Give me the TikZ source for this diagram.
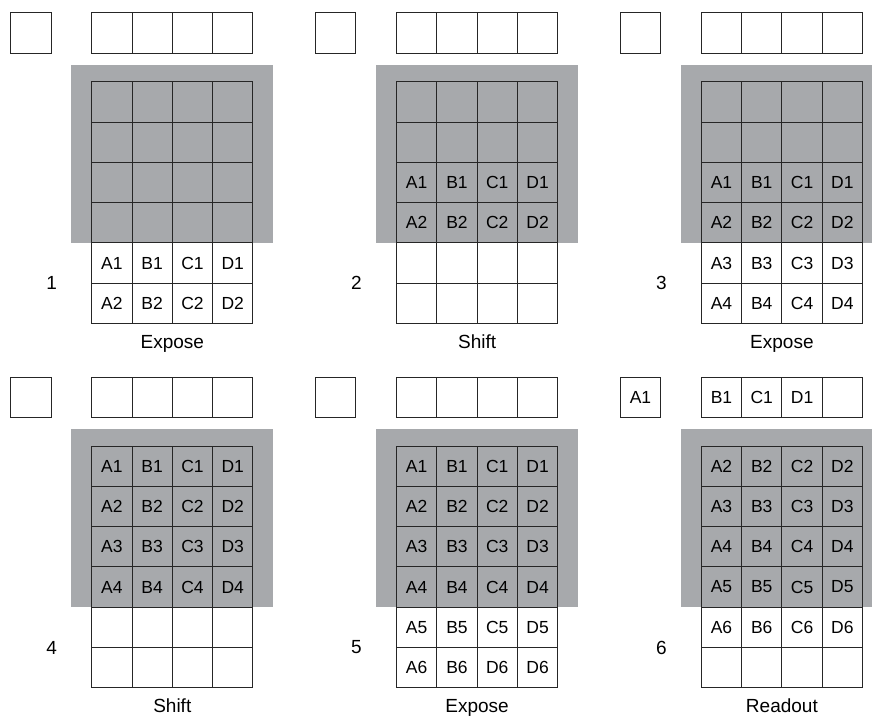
\documentclass[tikz,border=0pt]{standalone}
\usepackage{fontspec}
\setmainfont{Liberation Sans}
\definecolor{ccdgray}{RGB}{167,169,172}
\tikzset{
  pixel/.style={draw=black!85, line width=0.9pt, minimum size=40.3pt, inner sep=0pt,
    font=\fontsize{17.5}{17.5}\selectfont},
  mask/.style={fill=ccdgray},
  steplabel/.style={font=\fontsize{19}{19}\selectfont},
}
% one frame: name, x, y, number, caption, serial register, top row, 6 rows
\newcommand{\ccdpanel}[8]{%
  \begin{scope}[shift={(#2,#3)}]
    \fill[mask] (-20.7,-16.7) rectangle (181.6,161.2);
    \node[pixel] (#1-s) at (-60.85,-48.85) {#6};
    \foreach \lab [count=\c] in {#7}
      \node[pixel] (#1-t\c) at ({(\c-0.5)*40.3},-48.85) {\lab};
    \foreach \row [count=\r] in {#8}
      \foreach \lab [count=\c] in \row
        \node[pixel] (#1-\c-\r) at ({(\c-0.5)*40.3},{(\r-0.5)*40.3}) {\lab};
    \node[steplabel] (#1-num) at (-40,201.5) {#4};
    \node[steplabel, anchor=base] (#1-cap) at (80.6,266.3) {#5};
  \end{scope}
}

\begin{document}
\begin{tikzpicture}[x=1pt,y=-1pt]
  \useasboundingbox (0,0) rectangle (872,715);
  \ccdpanel{one}{91.7}{81.7}{1}{Expose}{}{{},{},{},{}}
    {{{},{},{},{}},{{},{},{},{}},{{},{},{},{}},{{},{},{},{}},
     {A1,B1,C1,D1},{A2,B2,C2,D2}}
  \ccdpanel{two}{396.5}{81.7}{2}{Shift}{}{{},{},{},{}}
    {{{},{},{},{}},{{},{},{},{}},{A1,B1,C1,D1},{A2,B2,C2,D2},
     {{},{},{},{}},{{},{},{},{}}}
  \ccdpanel{three}{701.3}{81.7}{3}{Expose}{}{{},{},{},{}}
    {{{},{},{},{}},{{},{},{},{}},{A1,B1,C1,D1},{A2,B2,C2,D2},
     {A3,B3,C3,D3},{A4,B4,C4,D4}}
  \ccdpanel{four}{91.7}{446}{4}{Shift}{}{{},{},{},{}}
    {{A1,B1,C1,D1},{A2,B2,C2,D2},{A3,B3,C3,D3},{A4,B4,C4,D4},
     {{},{},{},{}},{{},{},{},{}}}
  \ccdpanel{five}{396.5}{446}{5}{Expose}{}{{},{},{},{}}
    {{A1,B1,C1,D1},{A2,B2,C2,D2},{A3,B3,C3,D3},{A4,B4,C4,D4},
     {A5,B5,C5,D5},{A6,B6,D6,D6}}
  \ccdpanel{six}{701.3}{446}{6}{Readout}{A1}{B1,C1,D1,{}}
    {{A2,B2,C2,D2},{A3,B3,C3,D3},{A4,B4,C4,D4},{A5,B5,C5,D5},
     {A6,B6,C6,D6},{{},{},{},{}}}
\end{tikzpicture}
\end{document}
